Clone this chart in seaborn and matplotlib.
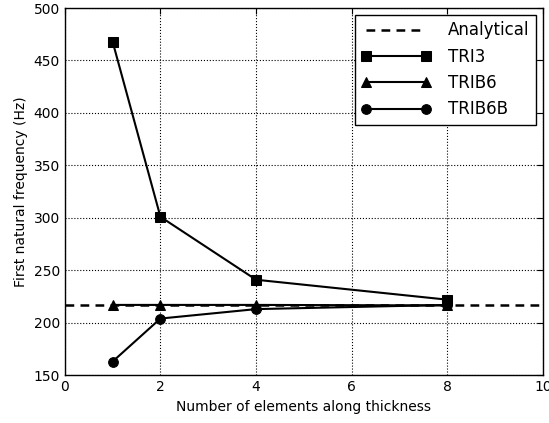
import matplotlib
matplotlib.use("Agg")
import matplotlib.pyplot as plt
import seaborn as sns
import pandas as pd

x_vals = [1, 2, 4, 8]
tri3 = [468, 301, 241, 222]
trib6 = [217, 217, 217, 216.5]
trib6b = [163, 204, 213, 217]
analytical = 216.7

sns.set_style("white")
plt.rcParams['font.family'] = ['DejaVu Sans']
plt.rcParams['text.color'] = 'black'
plt.rcParams['axes.labelcolor'] = 'black'
plt.rcParams['xtick.color'] = 'black'
plt.rcParams['ytick.color'] = 'black'

fig, ax = plt.subplots(figsize=(5.49, 4.23), dpi=100)
fig.subplots_adjust(left=0.118, right=0.989, top=0.981, bottom=0.113)

ax.axhline(analytical, color='black', linestyle='--', linewidth=1.8, label='Analytical', dashes=(3.5, 2.5))

df = pd.DataFrame({'x': x_vals * 3,
                   'y': tri3 + trib6 + trib6b,
                   'series': ['TRI3'] * 4 + ['TRIB6'] * 4 + ['TRIB6B'] * 4})
for name, mk in [('TRI3', 's'), ('TRIB6', '^'), ('TRIB6B', 'o')]:
    sub = df[df.series == name]
    sns.lineplot(data=sub, x='x', y='y', ax=ax, color='black', marker=mk,
                 markersize=7, linewidth=1.5, label=name, markeredgecolor='black')

ax.set_xlim(0, 10)
ax.set_ylim(150, 500)
ax.set_xticks([0, 2, 4, 6, 8, 10])
ax.set_yticks(range(150, 501, 50))
ax.grid(True, color='black', linestyle=':', linewidth=0.8)
ax.tick_params(direction='in', top=True, right=True, length=4, labelsize=10)
for s in ax.spines.values():
    s.set_color('black')
    s.set_linewidth(1.0)
ax.set_xlabel('Number of elements along thickness', fontsize=10)
ax.set_ylabel('First natural frequency (Hz)', fontsize=10)
leg = ax.legend(loc='upper right', numpoints=2, fontsize=12, fancybox=False,
                framealpha=1, edgecolor='black', handlelength=4.2,
                labelspacing=0.5, borderaxespad=0.4, handletextpad=1.0)
leg.get_frame().set_linewidth(1.0)
for t in leg.get_texts():
    t.set_color('black')

fig.savefig('out.png', dpi=100)
